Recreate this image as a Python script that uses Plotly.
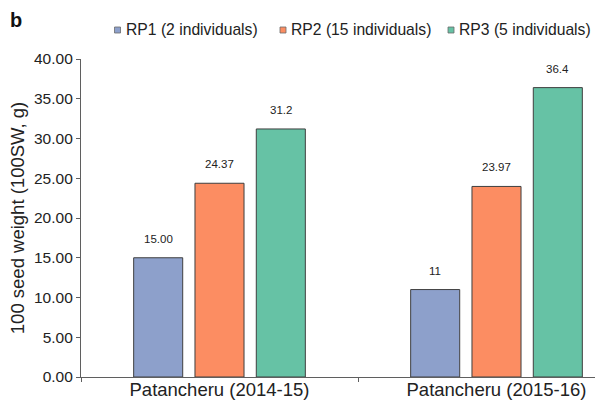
import plotly.graph_objects as go

# ---- data ----
categories = ["Patancheru (2014-15)", "Patancheru (2015-16)"]
series_names = ["RP1 (2 individuals)", "RP2 (15 individuals)", "RP3 (5 individuals)"]
rp1 = [15.00, 11.0]
rp2 = [24.37, 23.97]
rp3 = [31.2, 36.4]
rp1_labels = ["15.00", "11"]
rp2_labels = ["24.37", "23.97"]
rp3_labels = ["31.2", "36.4"]
y_tick_vals = [0, 5, 10, 15, 20, 25, 30, 35, 40]
y_tick_text = ["0.00", "5.00", "10.00", "15.00", "20.00", "25.00", "30.00", "35.00", "40.00"]
y_title = "100 seed weight (100SW, g)"
panel_label = "b"

colors = ["#8DA0CB", "#FC8D62", "#66C2A5"]
edge = "#3f3f3f"
axis_col = "#5f5f5f"
FONT = "Liberation Sans, Arial, sans-serif"

W, H = 595, 401
ML, MR, MT, MB = 81, 0, 59, 24
PW, PH = W - ML - MR, H - MT - MB
BARGAP = 0.336
BARGROUPGAP = 0.2

series_vals = [rp1, rp2, rp3]
series_labels = [rp1_labels, rp2_labels, rp3_labels]

fig = go.Figure()
for name, vals, col in zip(series_names, series_vals, colors):
    fig.add_trace(go.Bar(
        x=categories, y=vals, name=name, showlegend=False,
        marker=dict(color=col, line=dict(color=edge, width=1)),
        hoverinfo="x+y",
    ))

annotations = []
n = len(series_vals)
slot = (1 - BARGAP) / n
for j, (vals, labs) in enumerate(zip(series_vals, series_labels)):
    off = (j - (n - 1) / 2) * slot
    for i, (v, lab) in enumerate(zip(vals, labs)):
        annotations.append(dict(
            x=i + off, y=v, xref="x", yref="y", text=lab, showarrow=False,
            yanchor="middle", yshift=19,
            font=dict(family=FONT, size=11.5, color="#222222"),
        ))

def px_to_paper_x(px):
    return (px - ML) / PW

def px_to_paper_y(py):
    return (H - MB - py) / PH

# panel label
annotations.append(dict(
    x=px_to_paper_x(16), y=px_to_paper_y(20), xref="paper", yref="paper",
    text="<b>%s</b>" % panel_label, showarrow=False, xanchor="center", yanchor="middle",
    font=dict(family=FONT, size=20, color="#111111"),
))

# custom legend (small squares + text)
legend_marker_px = [117.5, 283, 451]
legend_y_px = 30
shapes = []
for name, col, mx in zip(series_names, colors, legend_marker_px):
    shapes.append(dict(
        type="rect", xref="paper", yref="paper",
        xsizemode="pixel", ysizemode="pixel",
        xanchor=px_to_paper_x(mx), yanchor=px_to_paper_y(legend_y_px),
        x0=-3, x1=3, y0=-3, y1=3,
        fillcolor=col, line=dict(color="#6b6b6b", width=0.8),
    ))
    annotations.append(dict(
        x=px_to_paper_x(mx + 6), y=px_to_paper_y(legend_y_px), xref="paper", yref="paper",
        text=name, showarrow=False, xanchor="left", yanchor="middle",
        font=dict(family=FONT, size=15.7, color="#222222"),
    ))

fig.update_layout(
    width=W, height=H,
    margin=dict(l=ML, r=MR, t=MT, b=MB, autoexpand=False),
    paper_bgcolor="white", plot_bgcolor="white",
    barmode="group", bargap=BARGAP, bargroupgap=BARGROUPGAP,
    showlegend=False,
    annotations=annotations, shapes=shapes,
    font=dict(family=FONT, color="#222222"),
)
fig.update_xaxes(
    type="category", range=[-0.5, -0.5 + PW / 277.0],
    showline=True, linecolor=axis_col, linewidth=1.2,
    ticks="outside", tickson="boundaries", ticklen=4, tickcolor=axis_col,
    ticklabelstandoff=-4,
    showgrid=False, zeroline=False,
    tickfont=dict(family=FONT, size=18.5, color="#222222"),
)
fig.update_yaxes(
    range=[0, 40], tickvals=y_tick_vals, ticktext=y_tick_text,
    showline=True, linecolor=axis_col, linewidth=1.2,
    ticks="outside", ticklen=4, tickcolor=axis_col,
    showgrid=False, zeroline=False,
    tickfont=dict(family=FONT, size=15.5, color="#222222"),
    title=dict(text=y_title, font=dict(family=FONT, size=18.5, color="#222222"), standoff=4),
)

fig.write_html(
    "out.html",
    config={"displayModeBar": False},
    post_script="document.body.style.margin='0';document.body.style.overflow='hidden';",
)
